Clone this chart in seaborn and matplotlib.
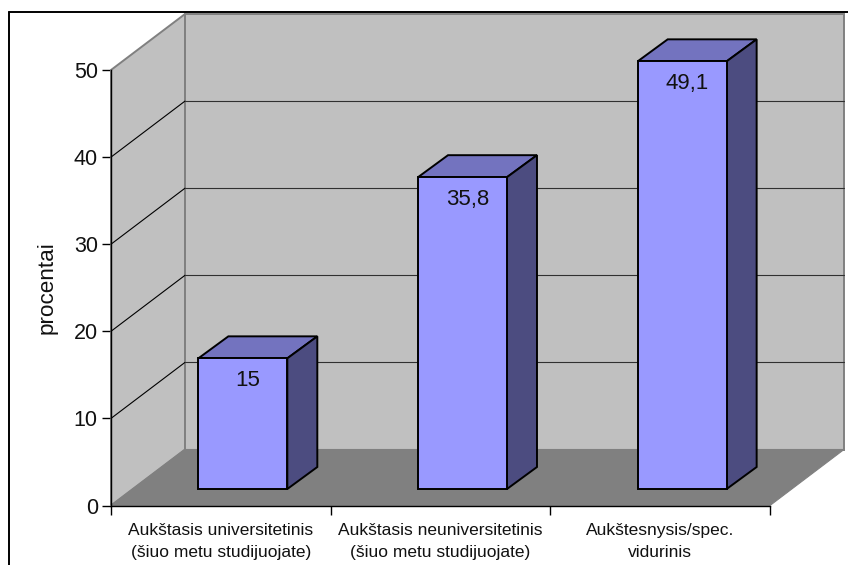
import matplotlib
matplotlib.use("Agg")
import matplotlib.pyplot as plt
from matplotlib.lines import Line2D
from matplotlib.patches import Polygon
from matplotlib.transforms import Affine2D
import pandas as pd
import seaborn as sns

categories = [
    "Aukštasis universitetinis\n(šiuo metu studijuojate)",
    "Aukštasis neuniversitetinis\n(šiuo metu studijuojate)",
    "Aukštesnysis/spec.\nvidurinis",
]
values = [15, 35.8, 49.1]
value_labels = ["15", "35,8", "49,1"]
y_ticks = [0, 10, 20, 30, 40, 50]

FRONT, TOP, SIDE = "#9999FF", "#7373BF", "#4C4C80"
WALL, FLOOR, EDGE = "#C0C0C0", "#808080", "#808080"
W, H = 848, 565

sns.set_style("white")
plt.rcParams["font.family"] = ["Liberation Sans", "DejaVu Sans"]

fig = plt.figure(figsize=(W / 100, H / 100), dpi=100)
ax = fig.add_axes([111 / W, (H - 505.5) / H, 659 / W, 435.5 / H])
ax.patch.set_alpha(0)

df = pd.DataFrame({"group": categories, "value": values})
sns.barplot(data=df, x="group", y="value", color=FRONT, saturation=1,
            width=0.405, edgecolor="black", linewidth=1.4, ax=ax, zorder=5)
ax.set_xlim(-0.5, 2.5)
ax.set_ylim(0, 50)


def shifted(dx, dy, base=None):
    """Base transform moved by a pixel offset (dy measured upwards)."""
    return (base or ax.transData) + Affine2D().translate(dx, dy)


# Depth of the plot box and of the bars, in pixels
BOX_DX, BOX_DY = 74, 56
BAR_DX, BAR_DY = 22, 16.5
BAR_DEPTH_X, BAR_DEPTH_Y = 30, 22

# Left wall, back wall and floor
ax.add_patch(Polygon([(0, 0), (BOX_DX / 659, BOX_DY / 435.5),
                      (BOX_DX / 659, 1 + BOX_DY / 435.5), (0, 1)],
                     closed=True, transform=ax.transAxes, fc=WALL, ec=EDGE,
                     lw=1.4, clip_on=False, zorder=1))
ax.add_patch(Polygon([(BOX_DX / 659, BOX_DY / 435.5), (1 + BOX_DX / 659, BOX_DY / 435.5),
                      (1 + BOX_DX / 659, 1 + BOX_DY / 435.5),
                      (BOX_DX / 659, 1 + BOX_DY / 435.5)],
                     closed=True, transform=ax.transAxes, fc=WALL, ec=EDGE,
                     lw=1.4, clip_on=False, zorder=1))
ax.add_patch(Polygon([(0, 0), (1, 0), (1 + BOX_DX / 659, BOX_DY / 435.5),
                      (BOX_DX / 659, BOX_DY / 435.5)],
                     closed=True, transform=ax.transAxes, fc=FLOOR, ec=EDGE,
                     lw=0.8, clip_on=False, zorder=2))

# Gridlines run up the left wall and across the back wall
for tick in y_ticks[1:-1]:
    ax.plot([-0.5, -0.5 + 3 * BOX_DX / 659], [tick, tick + BOX_DY / 8.71], color="black",
            lw=0.8, clip_on=False, zorder=3)
    ax.plot([-0.5, 2.5], [tick, tick], color="#303030", lw=0.8, clip_on=False,
            zorder=3, transform=shifted(BOX_DX, BOX_DY))

# Bars: the front faces come from seaborn, the top and side faces follow their values
for bar, value, text in zip(ax.patches, values, value_labels):
    if bar.get_height() not in values:
        continue
    x0, x1 = bar.get_x(), bar.get_x() + bar.get_width()
    offset = shifted(BAR_DX, BAR_DY)
    bar.set_transform(offset)
    bar.set_clip_on(False)
    back = shifted(BAR_DX + BAR_DEPTH_X, BAR_DY + BAR_DEPTH_Y)

    def blend(x, y, far):
        return (back if far else offset).transform((x, y))

    top_face = [blend(x0, value, 0), blend(x1, value, 0), blend(x1, value, 1), blend(x0, value, 1)]
    side_face = [blend(x1, 0, 0), blend(x1, value, 0), blend(x1, value, 1), blend(x1, 0, 1)]
    for pts, color in ((top_face, TOP), (side_face, SIDE)):
        ax.add_patch(Polygon(pts, closed=True, transform=None, fc=color, ec="black",
                             lw=1.4, clip_on=False, zorder=4.5))
    ax.text((x0 + x1) / 2, value, text, transform=shifted(BAR_DX + 5, BAR_DY - 22),
            ha="center", va="center", fontsize=16, color="#111111", zorder=6)

# Axes
for name in ("top", "right"):
    ax.spines[name].set_visible(False)
for name in ("left", "bottom"):
    ax.spines[name].set_visible(True)
    ax.spines[name].set_color("black")
    ax.spines[name].set_linewidth(1.0)
    ax.spines[name].set_zorder(7)

ax.set_yticks(y_ticks)
ax.set_xticks([-0.5, 0.5, 1.5, 2.5])
ax.set_xticklabels([])
ax.set_xticks([0, 1, 2], minor=True)
ax.set_xticklabels(categories, minor=True, fontsize=12.5, linespacing=1.6, color="#111111")
ax.tick_params(axis="x", which="major", length=6.5, width=1.0, color="black", bottom=True)
ax.tick_params(axis="x", which="minor", length=0, pad=12.5, bottom=False)
ax.tick_params(axis="y", length=6.5, width=1.0, color="black", labelsize=15.5, pad=3,
               left=True, labelcolor="#111111")
ax.set_xlabel("")
ax.set_ylabel("")
fig.text(47 / W, 1 - 288 / H, "procentai", rotation=90, ha="center", va="center",
         fontsize=16.2, color="#111111")

# Chart frame: only the top and left edges fall inside the canvas
fig.add_artist(Line2D([9 / W, 9 / W], [0, 1 - 12 / H], color="black", lw=1.4))
fig.add_artist(Line2D([9 / W, 1], [1 - 12 / H, 1 - 12 / H], color="black", lw=1.4))

fig.savefig("out.png", dpi=100)
